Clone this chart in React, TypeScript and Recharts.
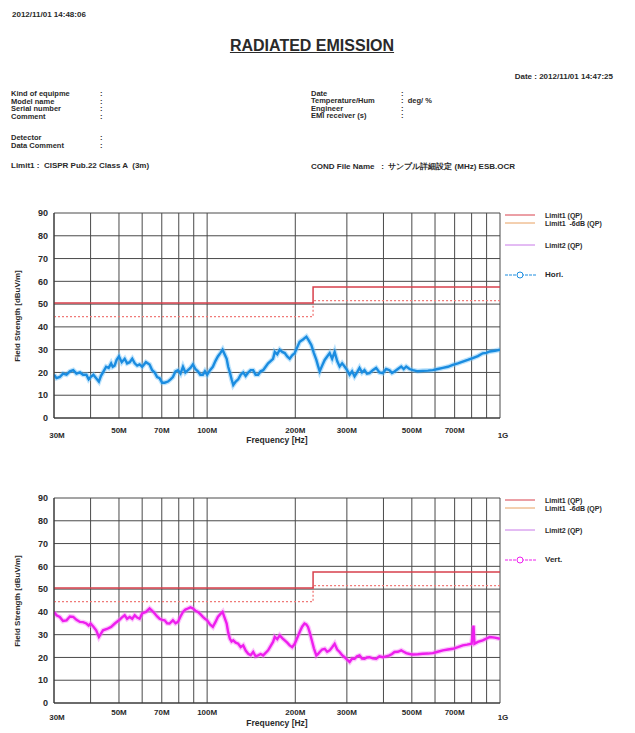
import { LineChart, Line, XAxis, YAxis, CartesianGrid } from "recharts"

// horizontal polarisation trace (MHz, dBuV/m)
const horiFreq = [
  30, 30.6, 31.4, 32.2, 33.1, 34.0, 34.9, 35.8, 36.8, 37.7, 38.7, 39.4, 40, 40.9, 41.8, 42.7, 43.4, 44.1, 45.2, 46.1,
  47.0, 47.6, 48.3, 49.1, 50, 51.1, 52.3, 53.3, 54.4, 55.5, 56.6, 57.7, 58.8, 60, 61.8, 63.6, 64.9, 66.2, 67.5, 68.8,
  70.2, 71.6, 73.5, 75, 76.4, 78, 79.5, 81.1, 82.7, 84.3, 86.0, 87.7, 89.4, 91.2, 93.0, 94.8, 96.7, 98.3, 100, 102.3,
  104.6, 106.7, 108.8, 110.9, 112.9, 114.7, 116.6, 118, 119.6, 121.2, 122.8, 125.2, 127.7, 130.2, 132.8, 135.4, 138.1,
  140.8, 143.6, 146.4, 149.3, 152.3, 155.3, 158.4, 161.5, 164.7, 167.9, 170.2, 173.5, 177, 180.5, 184.1, 187.7, 191.4,
  195.2, 199.1, 203, 207, 212.5, 218.2, 222.5, 227, 231.5, 236, 239, 242.3, 247, 252, 257, 262.1, 267.2, 272.5, 278,
  283.4, 289, 294.7, 300.5, 306.5, 312.5, 318.7, 325, 331.4, 338, 344.6, 351.4, 358.3, 367.8, 377.6, 387.7, 398.0,
  408.6, 419.5, 427.8, 436.3, 448, 460.0, 469, 478.4, 491, 504, 524, 545.1, 567, 589.6, 613, 638, 664, 690, 718,
  746.3, 776, 807.3, 840, 873, 898, 922.7, 960, 1000,
]
const horiLevel = [
  19, 17.5, 18, 19.5, 19, 20.5, 21, 19.5, 20, 19, 19, 17, 18, 19, 17.5, 16, 18.5, 20, 22.5, 22,
  24, 22.5, 23, 25.5, 27, 24.5, 26, 24, 24.5, 26, 24, 23, 23.5, 22.5, 24.5, 23.5, 21, 20, 18, 17.5,
  15.5, 15.5, 16, 17, 18, 20.5, 21, 19.5, 22.5, 20, 21, 22, 23.5, 21.5, 20.5, 19, 19, 20.5, 19, 21,
  22.5, 25, 27, 28.5, 30, 28, 26, 22.5, 20, 17, 14.5, 16, 17, 19, 20, 18.5, 20,
  21, 21, 19, 19, 20.5, 21, 22.5, 24, 25, 26, 29, 28, 30, 29, 28.5, 27, 26,
  27.5, 28.5, 31, 33.5, 34.5, 35.7, 34, 32, 28.5, 25.5, 23, 20.5, 23, 25.5, 27, 28.5, 26, 29, 25,
  22.6, 24, 22.6, 21, 19, 20.5, 18.3, 20, 22, 20, 21, 19.5, 19.7, 21, 22, 20, 19.7,
  21.5, 21, 19.8, 20.4, 21.5, 22.6, 21.5, 22.6, 21.5, 21, 20.5, 20.7, 20.8, 21, 21.5, 22, 22.5, 23.3, 24,
  24.8, 25.5, 26.3, 27.2, 28.4, 28.6, 29.2, 29.5, 30,
]

// vertical polarisation trace (MHz, dBuV/m)
const vertFreq = [
  30, 30.6, 31.4, 32.2, 33.1, 34.0, 34.9, 35.8, 36.8, 37.7, 38.7, 39.4, 40, 40.9, 41.8, 42.7, 43.4, 44.1, 45.5, 47.0,
  48.5, 50, 51.1, 52.3, 53.3, 54.4, 55.5, 56.6, 57.7, 58.8, 60, 61.8, 63.6, 64.9, 66.2, 67.5, 68.8, 70.2, 71.6, 73,
  74.4, 76.4, 78, 79.5, 81.1, 82.7, 84.3, 86.0, 87.7, 89.4, 91.2, 93.0, 94.8, 96.7, 98.3, 100, 102.3, 104.6, 106.7,
  108.8, 110.9, 112.9, 114.7, 116.6, 118, 119.6, 121.2, 122.8, 125.2, 127.7, 130.2, 132.8, 135.4, 138.1, 140.8, 143.6,
  146.4, 149.3, 152.3, 155.3, 158.4, 161.5, 164.7, 167.9, 170.2, 173.5, 177, 180.5, 184.1, 187.7, 191.4, 195.2, 199.1,
  203, 207, 211, 215, 218, 221, 224, 227, 231.5, 236, 239, 242.3, 247, 252, 257, 262.1, 267.2, 272.5, 278, 283.4, 289,
  294.7, 300.5, 306.5, 312.5, 318.7, 325, 331.4, 338, 344.6, 351.4, 358.3, 367.8, 377.6, 387.7, 398.0, 408.6, 419.5,
  427.8, 436.3, 448, 460.0, 469, 478.4, 491, 504, 524, 545.1, 567, 589.6, 613, 638, 664, 690, 718, 746.3, 772, 800,
  812, 818, 840, 873, 922.7, 960, 1000,
]
const vertLevel = [
  40, 38.5, 37.8, 36, 36.3, 38, 37.8, 36.5, 35.6, 35.5, 34.9, 34, 34.9, 33.5, 31.9, 29, 30.5, 31.9, 32.5, 33.4,
  35, 36.3, 37.5, 38.5, 37, 37.8, 37, 38.5, 37.5, 37, 39.3, 40, 41.5, 40.5, 39.3, 38, 37, 36.5, 36.3, 35,
  34.9, 36.3, 35, 35.6, 38, 40, 41, 41.5, 42, 41.5, 40.5, 40, 39, 37.8, 37, 36.3, 34.5, 33.4, 35.5,
  37.8, 39, 40, 37.5, 34.9, 31, 28.2, 27, 27.5, 26.5, 26, 24.5, 25.3, 23, 21.6, 21, 22.4,
  20.5, 20.9, 21.5, 20.9, 22, 23.1, 25, 26.8, 29, 28, 29.7, 28.5, 27.5, 26.5, 25.3, 24.5, 26,
  28.5, 31.2, 33.5, 34.9, 34.5, 33.4, 31, 28.2, 24, 20.9, 21.5, 22.4, 23.5, 23.8, 22.5, 23.1, 24.5, 26, 23.5, 22.4, 21,
  20.1, 19, 18, 19.5, 19.4, 20.5, 20.9, 19.5, 19.4, 20, 20.1, 19.6, 19.4, 20.5, 20.1, 20.5, 20.9,
  21.5, 22.4, 22.5, 23.1, 22.5, 21.9, 21.5, 21.3, 21.4, 21.6, 21.7, 21.9, 22.5, 23.1, 23.5, 23.8, 24.5, 25.3, 25.6, 26,
  34, 26, 26.8, 27.5, 29, 28.7, 28.2,
]

// CISPR 22 class A (3m) limit and the -6dB margin
const limitFreq = [30, 230, 230, 1000]
const limit1Level = [50.5, 50.5, 57.5, 57.5]
const limit1m6Level = [44.5, 44.5, 51.5, 51.5]

const gridFreq = [30, 40, 50, 60, 70, 80, 90, 100, 200, 300, 400, 500, 600, 700, 800, 900, 1000]
const freqLabels: Record<number, string> = {
  30: "30M", 50: "50M", 70: "70M", 100: "100M", 200: "200M", 300: "300M", 500: "500M", 700: "700M", 1000: "1G",
}
const levelTicks = [0, 10, 20, 30, 40, 50, 60, 70, 80, 90]

const toRows = (f: number[], v: number[]) => f.map((x, i) => ({ f: x, v: v[i] }))

const FONT = "'Liberation Sans', Arial, sans-serif"
const INK = "#2a2a2a"

function T({ x, y, size = 7.5, anchor = "start", children, style }: any) {
  const shift = anchor === "middle" ? "-50%" : anchor === "end" ? "-100%" : "0"
  return (
    <div
      style={{
        position: "absolute",
        left: x,
        top: y - size / 2,
        fontSize: size,
        lineHeight: 1,
        whiteSpace: "nowrap",
        transform: `translateX(${shift})`,
        ...style,
      }}
    >
      {children}
    </div>
  )
}

function EmissionChart({ top, rows, color, halo, name, labelDy, freqDy }: any) {
  const legendTop = top + 15
  const plotBottom = top + 218
  return (
    <>
      <div style={{ position: "absolute", left: 0, top }}>
        <LineChart width={635} height={248} margin={{ top: 13, right: 135, bottom: 0, left: 14 }}>
          <CartesianGrid stroke="#4a4a4a" strokeWidth={1} />
          <XAxis
            type="number"
            dataKey="f"
            scale="log"
            domain={[30, 1000]}
            allowDataOverflow
            ticks={gridFreq}
            interval={0}
            height={30}
            tickSize={0}
            tickMargin={0}
            axisLine={{ stroke: "#333" }}
            tick={(p: any) => {
              const label = freqLabels[p.payload.value]
              if (!label) return <g />
              const edge = p.payload.value === 30 || p.payload.value === 1000
              return (
                <text
                  x={p.x + (edge ? 3 : 0)}
                  y={p.y + labelDy + (edge ? 5 : 0)}
                  textAnchor="middle"
                  fontSize={8}
                  fontWeight="bold"
                  fill={INK}
                  fontFamily={FONT}
                >
                  {label}
                </text>
              )
            }}
          />
          <YAxis
            type="number"
            domain={[0, 90]}
            ticks={levelTicks}
            interval={0}
            width={40}
            tickSize={0}
            tickMargin={6}
            axisLine={{ stroke: "#333" }}
            tick={{ fontSize: 9, fontWeight: "bold", fill: INK, fontFamily: FONT }}
          />
          <Line
            data={toRows(limitFreq, limit1m6Level)}
            dataKey="v"
            type="linear"
            stroke="#f07a78"
            strokeWidth={1.3}
            strokeDasharray="2 2"
            dot={false}
            isAnimationActive={false}
          />
          <Line
            data={toRows(limitFreq, limit1Level)}
            dataKey="v"
            type="linear"
            stroke="#d8404c"
            strokeWidth={1.5}
            dot={false}
            isAnimationActive={false}
          />
          <Line
            data={rows}
            dataKey="v"
            type="linear"
            stroke={halo}
            strokeWidth={5}
            strokeOpacity={0.45}
            dot={false}
            isAnimationActive={false}
          />
          <Line
            data={rows}
            dataKey="v"
            type="linear"
            stroke={color}
            strokeWidth={2.4}
            dot={false}
            isAnimationActive={false}
          />
        </LineChart>
      </div>

      <div
        style={{
          position: "absolute",
          left: 18,
          top: top + 13 + 103,
          fontSize: 8,
          lineHeight: 1,
          whiteSpace: "nowrap",
          transform: "translate(-50%, -50%) rotate(-90deg)",
        }}
      >
        Field Strength [dBuV/m]
      </div>
      <T x={277} y={plotBottom + freqDy} size={8.5} anchor="middle">
        Frequency [Hz]
      </T>

      <svg style={{ position: "absolute", left: 0, top: 0 }} width={635} height={733}>
        <line x1={505} x2={535} y1={legendTop} y2={legendTop} stroke="#d8404c" strokeWidth={1} />
        <line x1={505} x2={535} y1={legendTop + 8} y2={legendTop + 8} stroke="#e8a060" strokeWidth={1} />
        <line x1={505} x2={535} y1={legendTop + 30} y2={legendTop + 30} stroke="#c878e8" strokeWidth={1} />
        <line x1={505} x2={537} y1={legendTop + 60} y2={legendTop + 60} stroke={color} strokeWidth={1} strokeDasharray="3 1" />
        <circle cx={520} cy={legendTop + 60} r={3} fill="#fff" stroke={color} strokeWidth={1} />
      </svg>
      <T x={545} y={legendTop} size={7}>Limit1 (QP)</T>
      <T x={545} y={legendTop + 8} size={7}>Limit1 &nbsp;-6dB (QP)</T>
      <T x={545} y={legendTop + 30} size={7}>Limit2 (QP)</T>
      <T x={545} y={legendTop + 60} size={8}>{name}</T>
    </>
  )
}

export default function App() {
  return (
    <div
      style={{
        position: "absolute",
        left: 0,
        top: 0,
        width: 635,
        height: 733,
        overflow: "hidden",
        background: "#fff",
        fontFamily: FONT,
        fontWeight: "bold",
        color: INK,
      }}
    >
      <T x={12} y={15} size={8}>2012/11/01 14:48:06</T>
      <T x={312} y={46} size={16} anchor="middle" style={{ textDecoration: "underline" }}>
        RADIATED EMISSION
      </T>
      <T x={613} y={77} size={8} anchor="end">Date : 2012/11/01 14:47:25</T>

      <T x={11} y={94}>Kind of equipme</T>
      <T x={11} y={101.5}>Model name</T>
      <T x={11} y={109}>Serial number</T>
      <T x={11} y={116.5}>Comment</T>
      <T x={100} y={94}>:</T>
      <T x={100} y={101.5}>:</T>
      <T x={100} y={109}>:</T>
      <T x={100} y={116.5}>:</T>
      <T x={11} y={138}>Detector</T>
      <T x={11} y={146}>Data Comment</T>
      <T x={100} y={138}>:</T>
      <T x={100} y={146}>:</T>
      <T x={11} y={166} size={8}>Limit1 : &nbsp;CISPR Pub.22 Class A &nbsp;(3m)</T>

      <T x={311} y={93.5}>Date</T>
      <T x={311} y={101}>Temperature/Hum</T>
      <T x={311} y={108.5}>Engineer</T>
      <T x={311} y={116}>EMI receiver (s)</T>
      <T x={401} y={93.5}>:</T>
      <T x={401} y={101}>: &nbsp;deg/ %</T>
      <T x={401} y={108.5}>:</T>
      <T x={401} y={116}>:</T>
      <T x={311} y={167} size={8}>
        COND File Name &nbsp;&nbsp;: &nbsp;サンプル詳細設定 (MHz) ESB.OCR
      </T>

      <EmissionChart
        top={200}
        rows={toRows(horiFreq, horiLevel)}
        color="#1a8ce0"
        halo="#6cc0f8"
        name="Hori."
        labelDy={15}
        freqDy={22}
      />
      <EmissionChart
        top={485}
        rows={toRows(vertFreq, vertLevel)}
        color="#ee1eee"
        halo="#f880f8"
        name="Vert."
        labelDy={12}
        freqDy={20}
      />
    </div>
  )
}
